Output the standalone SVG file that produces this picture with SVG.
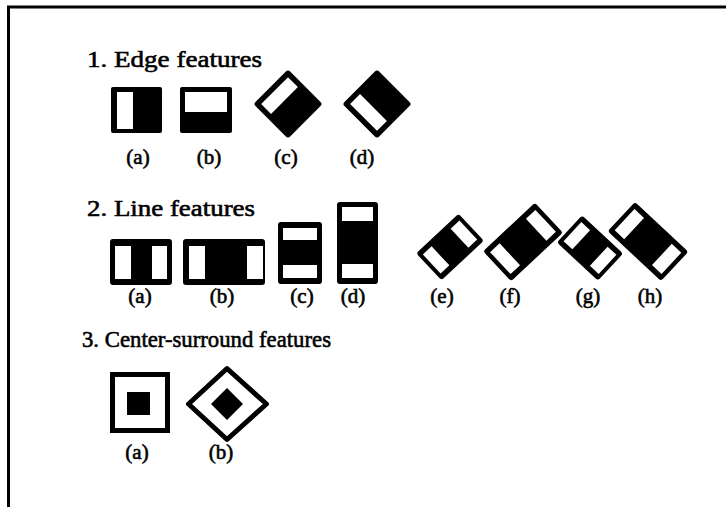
<svg xmlns="http://www.w3.org/2000/svg" width="726" height="507" viewBox="0 0 726 507">
<style>
text{font-family:"Liberation Serif","Times New Roman",serif;fill:#000;stroke:#000;stroke-width:0.6}
.t{font-size:24px}
.l{font-size:21px;text-anchor:middle}
.b{fill:#000}
.w{fill:#fff}
.o{fill:#fff;stroke:#000;stroke-width:5}
</style>
<rect width="726" height="507" fill="#fff"/>
<path d="M8.5 507 V7 H726" fill="none" stroke="#000" stroke-width="3"/>

<g id="edge-features">
<text class="t" x="87" y="67" textLength="175" lengthAdjust="spacingAndGlyphs">1. Edge features</text>
<g id="edge-a"><rect class="b" x="111" y="87" width="51" height="46" rx="2"/><rect class="w" x="117" y="92" width="16" height="37"/></g>
<g id="edge-b"><rect class="b" x="180" y="87" width="52" height="46" rx="2"/><rect class="w" x="185" y="92" width="42" height="20"/></g>
<g id="edge-c" transform="translate(288,104) rotate(45)"><rect class="b" x="-24.5" y="-24.5" width="49" height="49" rx="3"/><rect class="w" x="-19" y="-19" width="14" height="38"/></g>
<g id="edge-d" transform="translate(377,104) rotate(-45)"><rect class="b" x="-24.5" y="-24.5" width="49" height="49" rx="3"/><rect class="w" x="-19" y="-19" width="14" height="38"/></g>
<text class="l" x="138" y="164">(a)</text>
<text class="l" x="209" y="164">(b)</text>
<text class="l" x="286" y="164">(c)</text>
<text class="l" x="362" y="164">(d)</text>
</g>

<g id="line-features">
<text class="t" x="87" y="216" textLength="168" lengthAdjust="spacingAndGlyphs">2. Line features</text>
<g id="line-a"><rect class="b" x="110" y="239" width="62" height="46" rx="3"/><rect class="w" x="115" y="246" width="16" height="33"/><rect class="w" x="152" y="246" width="15" height="33"/></g>
<g id="line-b"><rect class="b" x="183" y="239" width="82" height="46" rx="3"/><rect class="w" x="189" y="246" width="16" height="33"/><rect class="w" x="247" y="246" width="16" height="33"/></g>
<g id="line-c"><rect class="b" x="278" y="222" width="44" height="62" rx="3"/><rect class="w" x="283" y="228" width="34" height="12"/><rect class="w" x="283" y="265" width="34" height="13"/></g>
<g id="line-d"><rect class="b" x="337" y="202" width="41" height="82" rx="3"/><rect class="w" x="342" y="207" width="31" height="14"/><rect class="w" x="342" y="264" width="31" height="14"/></g>
<g id="line-e" transform="translate(450,247) rotate(-43)"><rect class="b" x="-29" y="-18.5" width="58" height="37" rx="3"/><rect class="w" x="-25" y="-13" width="12" height="26"/><rect class="w" x="13" y="-13" width="12" height="26"/></g>
<g id="line-f" transform="translate(523,242) rotate(-43)"><rect class="b" x="-35.5" y="-20.5" width="71" height="41" rx="3"/><rect class="w" x="-31" y="-15" width="13" height="30"/><rect class="w" x="18" y="-15" width="13" height="30"/></g>
<g id="line-g" transform="translate(590,248) rotate(43)"><rect class="b" x="-28" y="-18.5" width="56" height="37" rx="3"/><rect class="w" x="-24" y="-13" width="12" height="26"/><rect class="w" x="12" y="-13" width="12" height="26"/></g>
<g id="line-h" transform="translate(648,241.5) rotate(43)"><rect class="b" x="-36.5" y="-20" width="73" height="40" rx="3"/><rect class="w" x="-32" y="-14.5" width="13" height="29"/><rect class="w" x="19" y="-14.5" width="13" height="29"/></g>
<text class="l" x="140" y="303">(a)</text>
<text class="l" x="222" y="303">(b)</text>
<text class="l" x="302" y="303">(c)</text>
<text class="l" x="353" y="303">(d)</text>
<text class="l" x="442" y="303">(e)</text>
<text class="l" x="510" y="303">(f)</text>
<text class="l" x="588" y="303">(g)</text>
<text class="l" x="650" y="303">(h)</text>
</g>

<g id="center-surround-features">
<text class="t" x="82" y="347" textLength="249" lengthAdjust="spacingAndGlyphs">3. Center-surround features</text>
<g id="center-a"><rect class="o" x="112.5" y="374.5" width="55" height="56"/><rect class="b" x="127" y="392" width="23" height="23"/></g>
<g id="center-b"><polygon class="o" points="227,368.5 266.5,404 227,439.5 188.5,404" stroke-linejoin="round"/><polygon class="b" points="227,388 243,404 227,420 211,404"/></g>
<text class="l" x="137" y="459">(a)</text>
<text class="l" x="221" y="459">(b)</text>
</g>
</svg>
